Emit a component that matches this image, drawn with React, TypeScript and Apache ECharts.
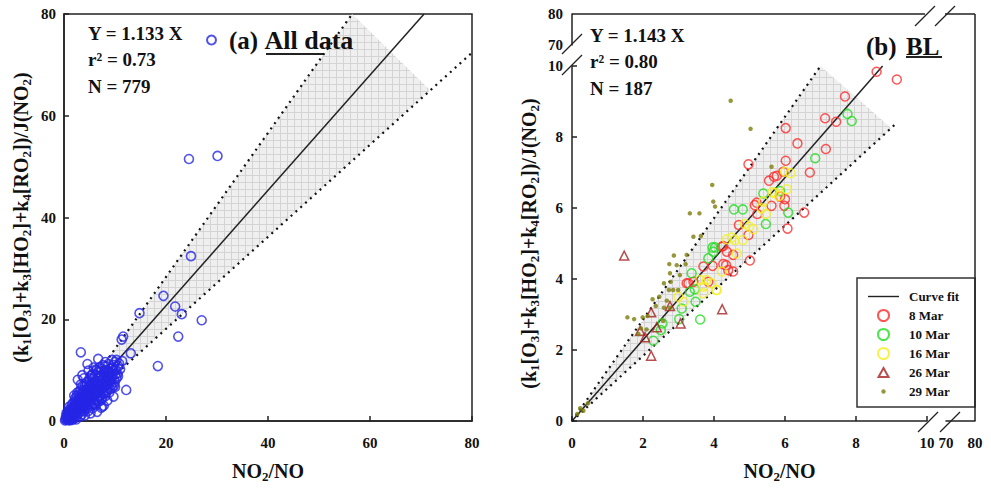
import { useEffect, useRef } from 'react';
import * as echarts from 'echarts';

const FONT = '"Liberation Serif", "Times New Roman", Times, serif';

// ---------- Panel (a): all data ----------
const allData: number[][] = [
  [24.5, 51.5], [30.1, 52.1], [24.9, 32.4], [19.5, 24.6], [21.8, 22.5], [23.1, 21.0], [14.8, 21.2],
  [27.0, 19.8], [22.4, 16.6], [11.6, 16.6], [11.3, 16.0], [3.3, 13.5], [6.7, 12.2], [4.6, 11.2],
  [13.1, 13.3], [18.4, 10.8], [12.2, 6.1], [2.7, 8.1], [7.5, 2.8], [10.0, 6.7], [9.7, 4.8],
  [11.4, 11.8], [10.3, 12.0], [3.6, 9.0], [5.4, 9.0], [6.4, 10.0], [8.0, 10.7], [9.3, 8.7],
  [0.3, 0.4], [0.5, 0.2], [0.6, 0.9], [0.8, 0.5], [0.9, 1.3], [1.0, 0.7], [1.1, 1.8], [1.2, 1.0],
  [1.3, 0.4], [1.4, 2.2], [1.5, 1.4], [1.6, 0.9], [1.7, 2.6], [1.8, 1.7], [1.9, 1.1], [2.0, 3.0],
  [2.0, 2.1], [2.1, 0.6], [2.2, 1.5], [2.3, 2.7], [2.4, 3.6], [2.5, 1.9], [2.6, 1.2], [2.7, 3.1],
  [2.8, 4.2], [2.9, 2.4], [3.0, 1.6], [3.0, 3.4], [3.1, 4.8], [3.2, 2.9], [3.3, 2.0], [3.4, 3.8],
  [3.5, 5.3], [3.6, 2.6], [3.7, 4.3], [3.8, 3.2], [3.9, 1.9], [4.0, 5.0], [4.0, 4.1], [4.1, 3.0],
  [4.2, 6.0], [4.3, 3.6], [4.4, 4.7], [4.5, 2.4], [4.6, 5.5], [4.7, 4.0], [4.8, 6.6], [4.9, 3.3],
  [5.0, 5.1], [5.0, 4.4], [5.1, 7.0], [5.2, 3.8], [5.3, 5.8], [5.4, 2.9], [5.5, 6.3], [5.6, 4.9],
  [5.7, 7.5], [5.8, 3.5], [5.9, 5.6], [6.0, 6.8], [6.0, 4.2], [6.1, 8.0], [6.2, 5.2], [6.3, 3.1],
  [6.4, 6.2], [6.5, 7.3], [6.6, 4.6], [6.7, 8.6], [6.8, 5.7], [6.9, 6.9], [7.0, 3.9], [7.1, 7.8],
  [7.2, 5.0], [7.3, 9.0], [7.4, 6.4], [7.5, 4.5], [7.6, 7.3], [7.7, 8.4], [7.8, 5.5], [7.9, 9.5],
  [8.0, 6.8], [8.1, 4.9], [8.2, 7.9], [8.3, 10.0], [8.4, 6.0], [8.5, 8.8], [8.6, 7.2], [8.8, 9.6],
  [8.9, 5.6], [9.0, 8.0], [9.2, 10.3], [9.3, 7.1], [9.5, 9.0], [9.7, 11.0], [9.8, 8.2], [10.2, 10.0],
  [10.5, 9.3], [10.8, 11.3], [1.5, 3.2], [2.2, 4.5], [3.0, 5.8], [3.6, 6.9], [4.4, 7.6], [5.0, 8.4],
  [5.6, 9.2], [6.2, 10.1], [7.0, 10.6], [2.6, 5.6], [3.3, 7.2], [1.0, 2.8], [0.5, 1.6], [2.0, 5.0],
  [4.8, 9.9], [5.8, 10.5], [3.9, 8.4], [6.5, 1.8], [5.2, 1.5], [4.1, 1.1], [7.8, 3.0], [8.5, 4.0],
  [3.2, 0.9], [2.4, 0.3], [1.6, 0.2], [0.4, 1.0], [0.2, 0.1], [0.7, 0.3], [1.1, 0.1], [9.0, 6.2],
  [9.8, 7.0], [10.3, 8.4], [7.3, 2.6],
  [1.2, 2.4], [1.8, 3.6], [2.1, 3.9], [2.5, 4.9], [2.9, 5.2], [3.3, 6.1], [3.7, 6.0], [4.1, 6.8],
  [4.5, 7.2], [4.9, 7.8], [5.3, 8.9], [5.7, 8.3], [6.1, 9.0], [6.6, 9.6], [7.2, 10.2], [7.6, 11.0],
  [8.1, 11.6], [8.7, 11.2], [9.4, 12.0], [10.0, 11.6], [0.8, 1.9], [1.3, 1.5], [1.9, 2.8], [2.3, 3.3],
  [2.8, 3.0], [3.2, 4.3], [3.6, 4.6], [4.0, 5.8], [4.3, 5.3], [4.7, 6.2], [5.1, 6.1], [5.5, 7.1],
  [5.9, 6.6], [6.3, 7.7], [6.7, 7.1], [7.1, 8.6], [7.5, 8.0], [7.9, 8.9], [8.3, 8.5], [8.7, 9.9],
  [9.1, 9.4], [9.6, 10.5], [10.1, 9.2], [10.6, 10.8], [11.0, 10.2], [1.4, 0.8], [1.9, 0.4], [2.6, 2.2],
  [3.1, 2.5], [3.5, 1.3], [4.0, 2.3], [4.4, 3.1], [4.8, 2.0], [5.2, 3.3], [5.6, 2.5], [6.0, 3.3],
  [6.4, 4.0], [6.9, 4.9], [7.3, 4.2], [7.7, 5.8], [8.2, 5.4], [8.6, 6.5], [9.1, 7.6], [9.5, 6.6],
  [10.0, 7.7], [10.6, 8.8], [0.9, 0.2], [1.5, 2.0], [2.2, 2.4], [2.9, 3.6], [3.4, 3.0], [3.9, 3.6],
  [4.2, 4.4], [4.6, 4.2], [5.3, 4.6], [5.8, 5.3], [6.2, 6.0], [6.8, 6.3], [7.4, 7.0], [8.0, 7.4],
  [8.8, 8.3], [9.4, 8.5],
];
const fitLineA: number[][] = [[0, 0], [70.6, 80]];
const upperDotA: number[][] = [[0, 0], [56.5, 80]];
const lowerDotA: number[][] = [[0, 0], [80, 72.4]];
const bandPolyA: number[][] = [[0, 0], [56.5, 80], [71.8, 65.0]];
const statsA = ['Y = 1.133 X', 'r² = 0.73', 'N = 779'];

// ---------- Panel (b): BL ----------
const mar8: number[][] = [
  [8.58, 9.84], [9.15, 9.62], [7.69, 9.14], [7.13, 8.53], [7.44, 8.43], [6.02, 8.25], [6.35, 7.82],
  [7.15, 7.66], [6.02, 7.33], [6.70, 7.00], [5.55, 6.77], [5.69, 6.88], [5.77, 6.91], [4.97, 7.23],
  [5.86, 6.32], [6.00, 6.25], [5.62, 6.06], [5.98, 6.06], [6.54, 5.87], [5.20, 6.15], [5.15, 6.08],
  [5.22, 5.83], [6.07, 5.42], [4.70, 5.52], [4.97, 5.24], [5.01, 4.52], [4.22, 4.91], [4.36, 4.77],
  [3.70, 4.35], [3.96, 4.37], [4.26, 4.42], [4.34, 4.39], [3.84, 3.92], [3.23, 3.88], [4.26, 4.93],
  [4.54, 4.68], [4.40, 4.25], [4.54, 4.21], [3.28, 3.88], [3.42, 3.92], [5.95, 7.02],
];
const mar10: number[][] = [
  [7.76, 8.65], [7.88, 8.45], [6.85, 7.40], [5.39, 6.41], [5.86, 6.48], [4.56, 5.96], [4.81, 5.96],
  [6.09, 5.87], [5.46, 5.55], [3.96, 4.89], [3.98, 4.77], [3.84, 4.58], [3.37, 4.16], [3.32, 3.64],
  [3.46, 3.71], [4.03, 4.89], [3.48, 3.36], [3.09, 3.17], [3.02, 2.87], [3.61, 2.86], [2.55, 2.75],
  [2.50, 2.56], [2.29, 2.26],
];
const mar16: number[][] = [
  [6.16, 6.98], [6.00, 7.02], [6.05, 6.53], [5.64, 6.44], [5.72, 6.43], [5.83, 6.34], [5.39, 6.18],
  [5.46, 5.83], [5.34, 5.99], [4.87, 5.55], [4.99, 5.47], [5.11, 5.40], [4.59, 5.10], [4.81, 5.10],
  [4.50, 5.17], [4.36, 5.12], [4.64, 4.72], [3.61, 3.97], [3.70, 3.78], [4.06, 3.69], [3.79, 3.97],
  [3.93, 3.88], [4.08, 3.69], [3.70, 3.60], [4.22, 4.21], [3.14, 3.36], [3.00, 3.50],
];
const mar26: number[][] = [
  [1.47, 4.66], [4.23, 3.15], [2.23, 3.06], [2.76, 3.24], [3.06, 2.75], [2.39, 2.64], [1.92, 2.54],
  [2.06, 2.36], [2.23, 1.84],
];
const mar29: number[][] = [
  [4.47, 9.02], [5.03, 8.23], [5.62, 7.16], [3.95, 6.65], [3.98, 6.18], [4.03, 6.04], [3.32, 5.85],
  [3.59, 5.85], [3.63, 5.21], [3.42, 5.19], [2.87, 4.66], [3.23, 4.68], [2.74, 4.42], [2.95, 4.39],
  [3.20, 4.42], [2.76, 4.16], [3.04, 4.11], [2.59, 3.88], [2.78, 3.92], [2.73, 3.69], [2.85, 3.69],
  [2.99, 3.69], [2.27, 3.43], [2.46, 3.50], [2.67, 3.39], [2.36, 3.24], [2.59, 3.19], [2.76, 3.19],
  [1.56, 2.92], [1.75, 2.87], [1.99, 2.92], [2.13, 2.96], [1.94, 2.61], [1.87, 2.45], [2.10, 2.58],
  [2.57, 2.82], [0.23, 0.36], [0.32, 0.29], [0.15, 0.20], [0.45, 0.50],
];
const fitLineB: number[][] = [[0, 0], [8.75, 10]];
const upperDotB: number[][] = [[0, 0], [7.0, 10]];
const lowerDotB: number[][] = [[0, 0], [9.13, 8.38]];
const bandPolyB: number[][] = [[0, 0], [7.0, 10], [9.0, 8.25]];
const statsB = ['Y = 1.143 X', 'r² = 0.80', 'N = 187'];

const AX = '#222';
const tickLabel = { fontFamily: FONT, fontWeight: 'bold' as const, fontSize: 15, color: '#111' };
const subRich = {
  s: { fontFamily: FONT, fontWeight: 'bold' as const, fontSize: 13, verticalAlign: 'bottom' as const, color: '#111' },
};
const nameStyle = { fontFamily: FONT, fontWeight: 'bold' as const, fontSize: 20, lineHeight: 24, color: '#111', rich: subRich };
const X_NAME = 'NO{s|2}/NO';
const Y_NAME = '(k{s|1}[O{s|3}]+k{s|3}[HO{s|2}]+k{s|4}[RO{s|2}])/J(NO{s|2})';

// legend icons (box 31x11, invisible corner moves keep the box size)
const ICON_LINE = 'path://M0,0M31,11M0,4.8L31,4.8L31,6.2L0,6.2Z';
const ICON_TRI = 'path://M0,0M31,11M15.5,1L20.5,10L10.5,10Z';
const ICON_DOT = 'path://M0,0M31,11M17.7,5.5A2.2,2.2,0,1,1,13.3,5.5A2.2,2.2,0,1,1,17.7,5.5Z';

function makePattern() {
  const c = document.createElement('canvas');
  c.width = 7;
  c.height = 7;
  const ctx = c.getContext('2d')!;
  ctx.fillStyle = '#efefef';
  ctx.fillRect(0, 0, 7, 7);
  ctx.fillStyle = '#d4d4d4';
  ctx.fillRect(0, 0, 7, 1);
  ctx.fillRect(0, 0, 1, 7);
  return c;
}

export default function App() {
  const ref = useRef<HTMLDivElement>(null);
  useEffect(() => {
    if (!ref.current) return;
    const chart = echarts.init(ref.current, undefined, { renderer: 'svg' });
    const pattern = { image: makePattern(), repeat: 'repeat' };

    const bandSeries = (poly: number[][], idx: number) => ({
      type: 'custom',
      coordinateSystem: 'cartesian2d',
      xAxisIndex: idx,
      yAxisIndex: idx,
      silent: true,
      z: 1,
      data: [0],
      renderItem: (_p: any, api: any) => ({
        type: 'polygon',
        shape: { points: poly.map((pt) => api.coord(pt)) },
        style: { fill: pattern as any, stroke: 'none' },
      }),
    });
    const dotLine = (d: number[][], idx: number) => ({
      type: 'line', xAxisIndex: idx, yAxisIndex: idx, data: d, symbol: 'none', silent: true, z: 2,
      lineStyle: { color: '#111', width: 2.2, type: [2, 4.5] },
    });
    const fitLine = (name: string, d: number[][], idx: number) => ({
      name, type: 'line', xAxisIndex: idx, yAxisIndex: idx, data: d, symbol: 'none', silent: true, z: 3,
      lineStyle: { color: '#222', width: 1.5 },
      itemStyle: { color: '#222' },
    });
    const hollow = (name: string, d: number[][], color: string, symbol = 'circle', size = 9) => ({
      name, type: 'scatter', xAxisIndex: 1, yAxisIndex: 1, data: d, symbol, symbolSize: size, z: 4,
      itemStyle: { color: 'rgba(0,0,0,0)', borderColor: color, borderWidth: 1.5 },
    });

    const baseAxis = {
      axisLine: { show: true, onZero: false, lineStyle: { color: AX, width: 1.5 } },
      axisTick: { show: true, inside: true, length: 5, lineStyle: { color: AX, width: 1.5 } },
      splitLine: { show: false },
    };

    const txt = (text: string, x: number, y: number, size: number, extra: any = {}) => ({
      type: 'text', x, y, silent: true,
      style: { text, fill: '#111', font: `bold ${size}px ${FONT}`, textVerticalAlign: 'middle', ...extra },
    });
    const ln = (x1: number, y1: number, x2: number, y2: number, w = 1.5) => ({
      type: 'line', silent: true, shape: { x1, y1, x2, y2 }, style: { stroke: AX, lineWidth: w },
    });
    const slash = (cx: number, cy: number) => ln(cx - 10, cy + 10, cx + 10, cy - 10, 1.3);

    const option: any = {
      animation: false,
      grid: [
        { left: 64, top: 14, width: 408, height: 407, show: true, borderColor: AX, borderWidth: 1.5, backgroundColor: 'transparent', outerBoundsMode: 'none' },
        { left: 572, top: 66, width: 355, height: 355, outerBoundsMode: 'none' },
        { left: 946, top: 66, width: 29, height: 355, outerBoundsMode: 'none' },
        { left: 572, top: 14, width: 355, height: 31, outerBoundsMode: 'none' },
      ],
      xAxis: [
        { ...baseAxis, gridIndex: 0, type: 'value', min: 0, max: 80, interval: 20,
          axisLabel: { ...tickLabel, margin: 14 },
          name: X_NAME, nameLocation: 'middle', nameGap: 38, nameTextStyle: nameStyle },
        { ...baseAxis, gridIndex: 1, type: 'value', min: 0, max: 10, interval: 2,
          axisLabel: { ...tickLabel, margin: 14 },
          name: X_NAME, nameLocation: 'middle', nameGap: 38, nameTextStyle: { ...nameStyle, padding: [0, 0, 0, 60] } },
        { ...baseAxis, gridIndex: 2, type: 'value', min: 70, max: 80, interval: 10,
          axisTick: { show: false }, axisLabel: { ...tickLabel, margin: 14 } },
        { gridIndex: 3, type: 'value', min: 0, max: 10, show: false },
      ],
      yAxis: [
        { ...baseAxis, gridIndex: 0, type: 'value', min: 0, max: 80, interval: 20,
          axisLabel: { ...tickLabel, margin: 8 },
          name: Y_NAME, nameLocation: 'middle', nameRotate: 90, nameGap: 31, nameTextStyle: nameStyle },
        { ...baseAxis, gridIndex: 1, type: 'value', min: 0, max: 10, interval: 2,
          axisLabel: { ...tickLabel, margin: 9 },
          name: Y_NAME, nameLocation: 'middle', nameRotate: 90, nameGap: 31, nameTextStyle: nameStyle },
        { gridIndex: 2, type: 'value', min: 0, max: 10, show: false },
        { ...baseAxis, gridIndex: 3, type: 'value', min: 70, max: 80, interval: 10,
          axisTick: { show: false }, axisLabel: { ...tickLabel, margin: 9 } },
      ],
      legend: [
        {
          data: ['All data'], left: 206, top: 27, padding: 0, icon: 'circle', itemWidth: 9, itemHeight: 9,
          selectedMode: false,
          formatter: () => '{a|(a)} {b|All data}',
          textStyle: {
            padding: [0, 0, 0, 8],
            rich: {
              a: { fontFamily: FONT, fontWeight: 'bold', fontSize: 25, color: '#111' },
              b: { fontFamily: FONT, fontWeight: 'bold', fontSize: 26, color: '#111', padding: [0, 0, 0, 3] },
            },
          },
        },
        {
          data: [
            { name: 'Curve fit', icon: ICON_LINE },
            { name: '8 Mar' },
            { name: '10 Mar' },
            { name: '16 Mar' },
            { name: '26 Mar', icon: ICON_TRI },
            { name: '29 Mar', icon: ICON_DOT },
          ],
          orient: 'vertical', left: 857, top: 278, padding: [12, 8, 11, 10],
          borderWidth: 0, itemWidth: 31, itemHeight: 11, itemGap: 6,
          selectedMode: false, symbolKeepAspect: true,
          textStyle: { fontFamily: FONT, fontWeight: 'bold', fontSize: 13, color: '#111', padding: [0, 0, 0, 5] },
        },
      ],
      series: [
        bandSeries(bandPolyA, 0),
        dotLine(upperDotA, 0),
        dotLine(lowerDotA, 0),
        fitLine('fitA', fitLineA, 0),
        {
          name: 'All data', type: 'scatter', xAxisIndex: 0, yAxisIndex: 0, data: allData,
          symbol: 'circle', symbolSize: 9, z: 4,
          itemStyle: { color: 'rgba(0,0,0,0)', borderColor: '#2626e6', borderWidth: 1.6 },
        },
        bandSeries(bandPolyB, 1),
        dotLine(upperDotB, 1),
        dotLine(lowerDotB, 1),
        fitLine('Curve fit', fitLineB, 1),
        hollow('8 Mar', mar8, '#ff2a2a'),
        hollow('10 Mar', mar10, '#22dd22'),
        hollow('16 Mar', mar16, '#f5f020'),
        hollow('26 Mar', mar26, '#a52020', 'triangle', 9),
        {
          name: '29 Mar', type: 'scatter', xAxisIndex: 1, yAxisIndex: 1, data: mar29,
          symbol: 'circle', symbolSize: 4.5, z: 5,
          itemStyle: { color: '#7d7d0a' },
        },
      ],
      graphic: [
        ...statsA.map((t, i) => txt(t, 88, 33 + i * 26.5, 19)),
        ...statsB.map((t, i) => txt(t, 590, 35 + i * 26.5, 19)),
        ln(266, 54, 363, 54, 2),
        txt('(b)', 866, 46, 25),
        txt('BL', 906, 46, 25),
        ln(906, 57, 942, 57, 2),
        // legend box
        {
          type: 'rect', silent: true, shape: { x: 857, y: 278, width: 118, height: 129 },
          style: { fill: 'none', stroke: '#333', lineWidth: 1.5 },
        },
        // right panel frame
        ln(572, 14, 925, 14),
        ln(945, 14, 975, 14),
        ln(975, 14, 975, 421),
        // break marks
        slash(572, 44), slash(572, 65),
        slash(925, 16), slash(945, 16),
        slash(928, 422), slash(950, 422),
      ],
    };
    chart.setOption(option);
    return () => chart.dispose();
  }, []);
  return <div ref={ref} style={{ position: 'absolute', left: 0, top: 0, width: 991, height: 491 }} />;
}
